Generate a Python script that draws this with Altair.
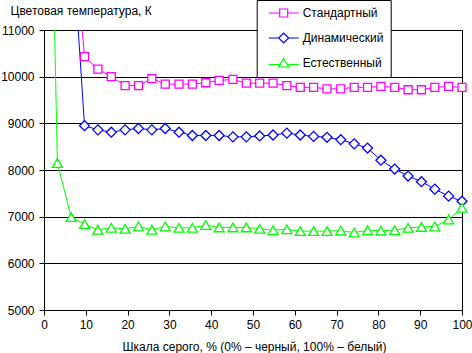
import altair as alt
import pandas as pd

# Gray level (%) for each of the 32 measured steps
x_levels = [0, 3.2, 6.5, 9.7, 12.9, 16.1, 19.4, 22.6, 25.8, 29.0, 32.3, 35.5,
            38.7, 41.9, 45.2, 48.4, 51.6, 54.8, 58.1, 61.3, 64.5, 67.7, 71.0,
            74.2, 77.4, 80.6, 83.9, 87.1, 90.3, 93.5, 96.8, 100]

standard = [16000, 15000, 13600, 10430, 10160, 10000, 9810, 9810, 9960, 9840,
            9840, 9840, 9870, 9920, 9940, 9860, 9860, 9860, 9810, 9770, 9770,
            9740, 9740, 9770, 9770, 9790, 9770, 9720, 9720, 9770, 9790, 9770]

dynamic = [20000, 17000, 13300, 8950, 8860, 8810, 8860, 8890, 8860, 8890,
           8810, 8740, 8740, 8740, 8710, 8710, 8730, 8750, 8790, 8750, 8720,
           8700, 8650, 8560, 8470, 8210, 8020, 7870, 7750, 7590, 7440, 7330]

natural = [22000, 8150, 6990, 6840, 6720, 6760, 6740, 6790, 6720, 6790, 6760,
           6760, 6820, 6770, 6770, 6770, 6740, 6710, 6730, 6690, 6690, 6690,
           6700, 6660, 6710, 6700, 6710, 6760, 6780, 6790, 6940, 7190]

series_names = ["Стандартный", "Динамический", "Естественный"]
colors = ["#FF00FF", "#0000FF", "#00FF00"]
shapes = ["square", "diamond", "triangle-up"]
marker_sizes = [64, 100, 100]

y_ticks = [5000, 6000, 7000, 8000, 9000, 10000, 11000]
x_ticks = [0, 10, 20, 30, 40, 50, 60, 70, 80, 90, 100]

rows = []
for name, vals in zip(series_names, [standard, dynamic, natural]):
    for xv, yv in zip(x_levels, vals):
        rows.append({"x": xv, "y": yv, "series": name})
df = pd.DataFrame(rows)

FONT = "Liberation Sans"

# legend symbols: line segment with the marker in the middle
legend_shape_expr = (
    "datum.value === 'Стандартный' ? "
    "'M-3,0H-0.8M0.8,0H3M-0.8,-0.8H0.8V0.8H-0.8Z' : "
    "datum.value === 'Динамический' ? "
    "'M-3,0H-1M1,0H3M-1,0L0,-1L1,0L0,1Z' : "
    "'M-3,0.3H-0.7M0.7,0.3H3M0,-0.9L1,0.8L-1,0.8Z'"
)

x_enc = alt.X(
    "x:Q",
    scale=alt.Scale(domain=[0, 100], nice=False, zero=False),
    axis=alt.Axis(
        values=x_ticks, grid=False, tickSize=5, labelPadding=4,
        labelFlush=False,
        title="Шкала серого, % (0% – черный, 100% – белый)",
        titleX=210, titleY=40, titleAlign="center",
        titleBaseline="alphabetic",
    ),
)
y_enc = alt.Y(
    "y:Q",
    scale=alt.Scale(domain=[5000, 11000], nice=False, zero=False),
    axis=alt.Axis(
        values=y_ticks, format="d", grid=True, gridColor="black",
        gridOpacity=1, tickSize=5, labelPadding=5, labelFlush=False,
        title="Цветовая температура, К", titleAngle=0, titleAlign="left",
        titleBaseline="middle", titleX=-34, titleY=-20,
    ),
)

color_scale = alt.Scale(domain=series_names, range=colors)

lines = alt.Chart(df).mark_line(clip=True, strokeWidth=1).encode(
    x=x_enc,
    y=y_enc,
    stroke=alt.Stroke(
        "series:N",
        scale=color_scale,
        sort=series_names,
        legend=alt.Legend(
            title=None, orient="none", legendX=212.7, legendY=-30,
            fillColor="white", strokeColor="black", padding=7,
            rowPadding=10, symbolSize=100, symbolOffset=14, labelOffset=13,
            symbolType=alt.ExprRef(expr=legend_shape_expr),
            symbolFillColor="white", symbolStrokeWidth=1.2,
            labelFont=FONT, labelFontSize=12, labelColor="black",
            labelLimit=300, zindex=5,
        ),
    ),
    order="x:Q",
)

point_layers = []
for name, col, shp, sz in zip(series_names, colors, shapes, marker_sizes):
    point_layers.append(
        alt.Chart(df).transform_filter(
            (alt.datum.series == name) & (alt.datum.y <= 11000)
        ).mark_point(
            shape=shp, size=sz, fill="white", fillOpacity=1, stroke=col,
            strokeWidth=1.3, opacity=1,
        ).encode(x=x_enc, y=y_enc)
    )

chart = alt.layer(lines, *point_layers).properties(
    width=418,
    height=280,
    autosize=alt.AutoSizeParams(type="none"),
    padding={"left": 44, "top": 30, "right": 10, "bottom": 43},
    background="white",
).configure_view(
    stroke="black", strokeWidth=1
).configure_axis(
    domainColor="black", tickColor="black", labelColor="black",
    labelFont=FONT, labelFontSize=12, titleFont=FONT, titleFontSize=12,
    titleFontWeight="normal", titleColor="black",
)

chart.save("out.html", embed_options={"renderer": "svg", "actions": False})
